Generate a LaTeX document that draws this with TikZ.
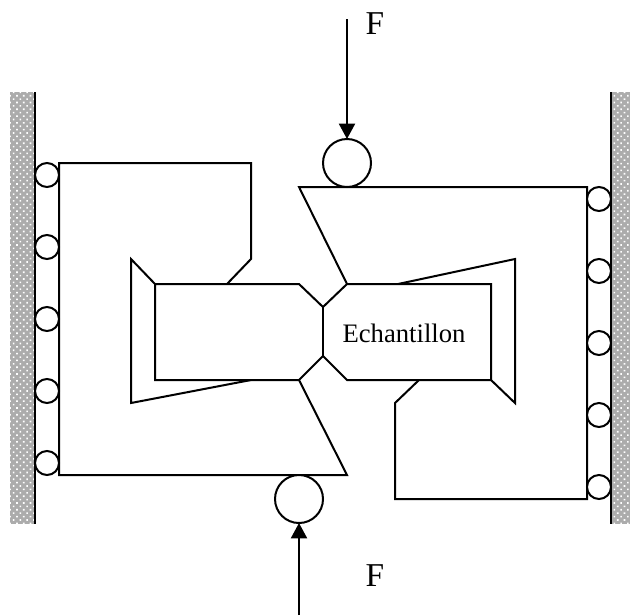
\documentclass[tikz,border=0pt]{standalone}
\usepackage{fontspec}
\setmainfont{Liberation Serif}
\usetikzlibrary{arrows.meta,patterns.meta}
\tikzstyle{R}+=[draw,circle,inner sep=0pt,outer sep=0pt,minimum size=18pt,line width=1.5pt,fill=white]
\tikzstyle{B}+=[R,minimum size=36pt]
\tikzstyle{W}+=[fill=gray!65,draw=none]
\tikzstyle{H}+=[pattern={Dots[distance=3.6pt,radius=0.85pt,angle=45]},pattern color=white,draw=none]
\tikzstyle{P}+=[line width=1.5pt,line join=miter]
\tikzstyle{A}+=[-{Triangle[length=11.5pt,width=12pt]},line width=1.5pt]
\tikzstyle{T}+=[font=\fontsize{25}{25}\selectfont]

\begin{document}
\begin{tikzpicture}[x=0.75pt,y=-0.75pt]
        \useasboundingbox (0,0) rectangle (630,615);

        % walls
        \begin{scope}
            \fill[W] (10,92) rectangle (35,524);
            \fill[H] (10,92) rectangle (35,524);
            \fill[W] (611,92) rectangle (630,524);
            \fill[H] (611,92) rectangle (630,524);
            \draw[P] (35,92) -- +(0,432);
            \draw[P] (611,92) -- +(0,432);
        \end{scope}

        % sample and wedges
        \begin{scope}
            \draw[P] (155,284) -- (299,284) -- (323,307) -- (347,284) -- (491,284) -- (491,380) -- (347,380) -- (323,356) -- (299,380) -- (155,380) -- cycle;
            \draw[P] (323,307) -- (323,356);
            \draw[P] (155,284) -- (131,259) -- (131,403) -- (251,380);
            \draw[P] (227,284) -- (251,259) -- (251,163) -- (59,163) -- (59,475) -- (347,475) -- (299,380);
            \draw[P] (398,284) -- (515,259) -- (515,403) -- (491,380);
            \draw[P] (347,284) -- (299,187) -- (587,187) -- (587,499) -- (395,499) -- (395,403) -- (419,380);
        \end{scope}

        % rollers
        \foreach \i/\y in {1/175,2/247,3/319,4/391,5/463}
            \node[R] (left\i) at (47,\y) {};
        \foreach \i/\y in {1/199,2/271,3/343,4/415,5/487}
            \node[R] (right\i) at (599,\y) {};
        \node[B] (top) at (347,163) {};
        \node[B] (bottom) at (299,499) {};

        % forces
        \coordinate (topF) at (347,19);
        \coordinate (bottomF) at (299,615);
        \draw[A] (topF) -- (top);
        \draw[A] (bottomF) -- (bottom);
        \node[T] (labelT) at (375,24) {F};
        \node[T] (labelB) at (375,576) {F};
        \node[font=\fontsize{20}{20}\selectfont,anchor=base] (sample) at (404,342) {Echantillon};
    \end{tikzpicture}
\end{document}
